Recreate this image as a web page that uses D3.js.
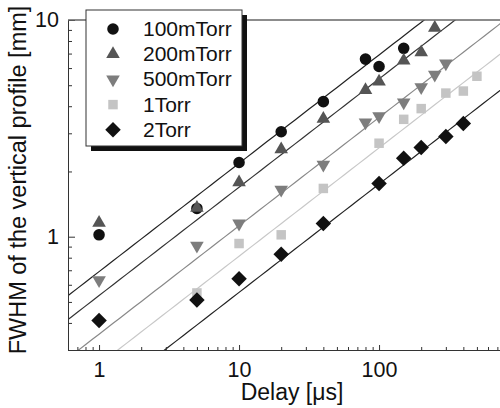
<!DOCTYPE html>
<html lang="en">
<head>
    <meta charset="UTF-8">
    <title>FWHM vs delay</title>
    <script src="https://d3js.org/d3.v7.min.js"></script>
    <style>
        body { margin: 0; background: #fff; }
        svg { font-family: "Liberation Sans", Arial, Helvetica, sans-serif; }
        .axis path, .axis line { stroke: #333; stroke-width: 1px; }
        .axis text { font-size: 21.5px; fill: #111; font-family: "Liberation Sans", Arial, sans-serif; }
    </style>
</head>
<body>
    <svg width="500" height="408"></svg>

    <script>
        // series names and values
        const seriesNames = ["100mTorr", "200mTorr", "500mTorr", "1Torr", "2Torr"];

        const delay100m = [1, 5, 10, 20, 40, 80, 100, 150];
        const fwhm100m  = [1.02, 1.35, 2.2, 3.05, 4.2, 6.6, 6.1, 7.4];

        const delay200m = [1, 5, 10, 20, 40, 80, 100, 150, 200, 250];
        const fwhm200m  = [1.16, 1.36, 1.78, 2.53, 3.5, 4.75, 5.2, 6.5, 7.1, 9.2];

        const delay500m = [1, 5, 10, 20, 40, 80, 100, 150, 200, 250, 300];
        const fwhm500m  = [0.63, 0.91, 1.15, 1.65, 2.15, 3.37, 3.6, 4.17, 4.9, 5.6, 6.3];

        const delay1T = [5, 10, 20, 40, 100, 150, 200, 300, 400, 500];
        const fwhm1T  = [0.55, 0.93, 1.02, 1.67, 2.7, 3.48, 3.9, 4.6, 4.7, 5.5];

        const delay2T = [1, 5, 10, 20, 40, 100, 150, 200, 300, 400];
        const fwhm2T  = [0.41, 0.51, 0.64, 0.83, 1.15, 1.76, 2.3, 2.58, 2.9, 3.33];

        // power-law fits  fwhm = amp * delay^exp
        const fitAmp = [0.69, 0.535, 0.355, 0.257, 0.175];
        const fitExp = [0.5, 0.5, 0.5, 0.5, 0.5];

        const xMajor = [1, 10, 100];
        const yMajor = [1, 10];

        const delays = [delay100m, delay200m, delay500m, delay1T, delay2T];
        const fwhms = [fwhm100m, fwhm200m, fwhm500m, fwhm1T, fwhm2T];

        const symbols = [d3.symbolCircle, d3.symbolTriangle, "down", d3.symbolSquare, "diamond"];
        const fills = ["#111", "#555", "#7d7d7d", "#c4c4c4", "#111"];
        const lineColors = ["#222", "#333", "#888", "#c8c8c8", "#222"];
        const sizes = [105, 80, 80, 90, 120];

        const svg = d3.select("svg");
        const plotLeft = 68, plotBottom = 350, plotTop = 20;

        const x = d3.scaleLog().domain([0.6, 1000]).range([plotLeft, plotLeft + 140 * Math.log10(1000 / 0.6)]);
        const y = d3.scaleLog().domain([0.3, 10]).range([plotBottom, plotTop]);

        svg.append("clipPath").attr("id", "plot")
            .append("rect")
            .attr("x", plotLeft).attr("y", plotTop)
            .attr("width", 500 - plotLeft).attr("height", plotBottom - plotTop);

        // fit lines
        const g = svg.append("g").attr("clip-path", "url(#plot)");
        const xs = d3.range(-0.3, 3.05, 0.05).map(p => Math.pow(10, p));
        const line = d3.line().x(d => x(d[0])).y(d => y(d[1]));
        fitAmp.forEach((a, i) => {
            g.append("path")
                .attr("d", line(xs.map(v => [v, a * Math.pow(v, fitExp[i])])))
                .attr("fill", "none")
                .attr("stroke", lineColors[i])
                .attr("stroke-width", 1.2);
        });

        // markers
        function markerPath(sym, size) {
            if (sym === "down") return d3.symbol(d3.symbolTriangle, size)();
            if (sym === "diamond") return d3.symbol(d3.symbolSquare, size)();
            return d3.symbol(sym, size)();
        }
        function markerTransform(sym) {
            if (sym === "down") return " rotate(180)";
            if (sym === "diamond") return " rotate(45)";
            return "";
        }

        delays.forEach((dl, i) => {
            g.selectAll(null)
                .data(dl.map((v, j) => [v, fwhms[i][j]]))
                .enter().append("path")
                .attr("d", markerPath(symbols[i], sizes[i]))
                .attr("transform", d => `translate(${x(d[0])},${y(d[1])})` + markerTransform(symbols[i]))
                .attr("fill", fills[i]);
        });

        // axes
        const xMinor = x.ticks().filter(v => !xMajor.includes(v));
        const yMinor = y.ticks().filter(v => !yMajor.includes(v));

        svg.append("g").attr("class", "axis")
            .attr("transform", `translate(0,${plotBottom})`)
            .call(d3.axisBottom(x).tickValues(xMinor).tickSize(-3).tickFormat("").tickSizeOuter(0));
        svg.append("g").attr("class", "axis")
            .attr("transform", `translate(0,${plotBottom})`)
            .call(d3.axisBottom(x).tickValues(xMajor).tickSize(-5).tickPadding(12).tickFormat(d3.format("d")).tickSizeOuter(0))
            .selectAll("text").attr("dy", "0.72em");

        svg.append("g").attr("class", "axis")
            .attr("transform", `translate(${plotLeft},0)`)
            .call(d3.axisLeft(y).tickValues(yMinor).tickSize(-4).tickFormat("").tickSizeOuter(0));
        svg.append("g").attr("class", "axis")
            .attr("transform", `translate(${plotLeft},0)`)
            .call(d3.axisLeft(y).tickValues(yMajor).tickSize(-7).tickPadding(9).tickFormat(d3.format("d")).tickSizeOuter(0));

        // top border
        svg.append("line")
            .attr("x1", plotLeft).attr("x2", 500)
            .attr("y1", plotTop).attr("y2", plotTop)
            .attr("stroke", "#666").attr("stroke-width", 1.3);

        // axis titles
        svg.append("text")
            .attr("x", 292).attr("y", 400)
            .attr("text-anchor", "middle")
            .attr("font-size", 23)
            .attr("fill", "#111")
            .text("Delay [μs]");
        svg.append("text")
            .attr("transform", "translate(26,180) rotate(-90)")
            .attr("text-anchor", "middle")
            .attr("font-size", 23.5)
            .attr("fill", "#111")
            .text("FWHM of the vertical profile [mm]");

        // legend
        const lg = svg.append("g");
        lg.append("rect")
            .attr("x", 91).attr("y", 15).attr("width", 156).attr("height", 136)
            .attr("fill", "#111");
        lg.append("rect")
            .attr("x", 86).attr("y", 10).attr("width", 156).attr("height", 136)
            .attr("fill", "#fff").attr("stroke", "#333").attr("stroke-width", 1);
        seriesNames.forEach((name, i) => {
            const ry = 29 + i * 25.2;
            lg.append("path")
                .attr("d", markerPath(symbols[i], sizes[i]))
                .attr("transform", `translate(113,${ry})` + markerTransform(symbols[i]))
                .attr("fill", fills[i]);
            lg.append("text")
                .attr("x", 143).attr("y", ry + 7)
                .attr("font-size", 21)
                .attr("fill", "#111")
                .text(name);
        });
    </script>
</body>
</html>
